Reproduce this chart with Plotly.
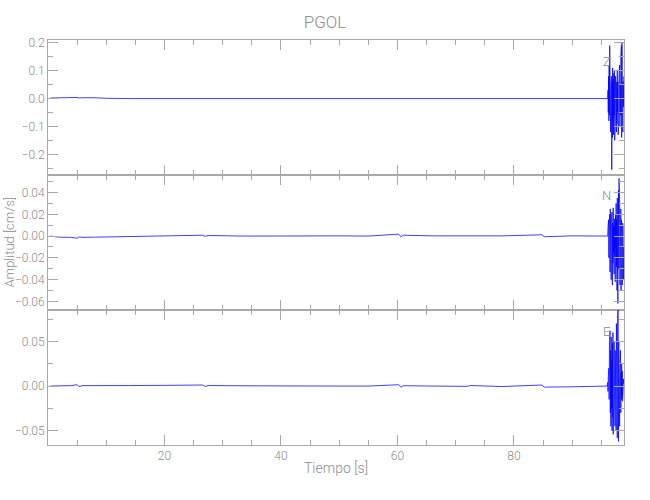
import plotly.graph_objects as go
from plotly.subplots import make_subplots

# ---------------- data ----------------
# pre-event (quiet) portion
t_pre = [0.4, 2.0, 4.0, 5.0, 5.3, 6.0, 8.0, 10.0, 14.0, 20.0, 26.5, 27.0, 27.5, 34.0, 40.0, 45.0,
         50.0, 55.0, 60.2, 60.6, 61.0, 66.0, 72.0, 72.5, 78.0, 84.8, 85.2, 90.0, 94.0, 96.0]
z_pre = [0.002, 0.003, 0.003, 0.004, 0.002, 0.003, 0.003, 0.001, 0.0, 0.0, 0.001, -0.001, 0.0, 0.0,
         0.0, 0.0, 0.0, 0.0, 0.001, -0.001, 0.0, 0.0, 0.0, 0.0, 0.0, 0.001, -0.001, 0.0, 0.0, 0.0]
n_pre = [0.0, -0.001, -0.0012, -0.002, -0.0008, -0.0012, -0.001, -0.0008, -0.0004, 0.0, 0.0008,
         -0.0002, 0.0005, 0.0, 0.0003, 0.0006, 0.0002, 0.0, 0.0018, -0.0006, 0.0008, 0.0002, 0.0,
         0.0006, 0.0002, 0.0012, -0.0006, 0.0002, 0.0, 0.0]
e_pre = [0.0, 0.0, 0.0005, 0.0015, -0.0005, 0.0005, 0.0004, 0.0008, 0.0006, 0.0008, 0.0012,
         -0.0004, 0.0006, 0.0003, 0.0005, 0.0004, 0.0, 0.0, 0.0015, -0.0012, 0.0004, 0.0, -0.0003,
         0.0006, -0.0005, 0.0012, -0.0012, -0.0008, -0.0005, 0.0]

# event burst
t_burst = [96.10, 96.15, 96.20, 96.25, 96.30, 96.35, 96.40, 96.45, 96.50, 96.55, 96.60, 96.65,
           96.70, 96.75, 96.80, 96.85, 96.90, 96.95, 97.00, 97.05, 97.10, 97.15, 97.20, 97.25,
           97.30, 97.35, 97.40, 97.45, 97.50, 97.55, 97.60, 97.65, 97.70, 97.75, 97.80, 97.85,
           97.90, 97.95, 98.00, 98.05, 98.10, 98.15, 98.20, 98.25, 98.30, 98.35, 98.40, 98.45,
           98.50, 98.55, 98.60, 98.65, 98.70, 98.75, 98.80, 98.85]
z_burst = [0.0, 0.03, -0.05, 0.08, -0.08, 0.12, -0.06, 0.19, -0.10, 0.10, -0.12, 0.05,
           -0.18, 0.08, -0.255, 0.06, -0.14, 0.11, -0.08, 0.07, -0.13, 0.09, -0.06, 0.10,
           -0.15, 0.05, -0.10, 0.08, -0.06, 0.04, -0.12, 0.06, -0.09, 0.10, -0.05, 0.06,
           -0.13, 0.04, -0.08, 0.09, -0.04, 0.12, -0.10, 0.05, -0.06, 0.15, -0.02, 0.19,
           -0.14, 0.20, -0.05, 0.10, -0.12, 0.06, -0.03, 0.08]
n_burst = [0.0, 0.008, -0.010, 0.015, -0.020, 0.012, -0.028, 0.020, -0.033, 0.025, -0.018, 0.010,
           -0.040, 0.018, -0.030, 0.022, -0.045, 0.012, -0.025, 0.026, -0.015, 0.008, -0.035, 0.016,
           -0.020, 0.010, -0.042, 0.020, -0.012, 0.030, -0.028, 0.015, -0.050, 0.035, -0.040, -0.062,
           0.020, 0.042, -0.030, 0.053, -0.020, 0.030, -0.045, 0.010, -0.035, 0.025, -0.050, 0.015,
           -0.030, 0.008, -0.045, 0.012, -0.025, 0.010, -0.040, -0.010]
e_burst = [0.004, -0.006, 0.010, -0.012, 0.020, -0.015, 0.045, -0.020, 0.062, -0.030, 0.040, -0.045,
           0.055, -0.025, 0.030, -0.050, 0.048, -0.035, 0.060, -0.054, 0.035, -0.020, 0.050, -0.040,
           0.025, -0.045, 0.040, -0.030, 0.030, -0.050, 0.070, -0.035, 0.045, -0.058, 0.080, -0.040,
           0.088, -0.062, 0.050, -0.030, 0.030, -0.045, 0.020, -0.020, 0.040, -0.030, 0.015, -0.015,
           0.025, -0.010, 0.017, -0.017, 0.010, -0.005, 0.008, 0.002]

x_ticks = [20, 40, 60, 80]
components = ["Z", "N", "E"]
y_ranges = [[-0.274, 0.210], [-0.068, 0.0562], [-0.066, 0.0852]]
y_dticks = [0.1, 0.02, 0.05]
y_minor = [0.05, 0.01, 0.025]
y_formats = [".1f", ".2f", ".2f"]
label_y = [0.133, 0.037, 0.061]

# ---------------- figure ----------------
GRAY = "#8c8c8c"
AX = "#a8a8a8"
FONT = "Roboto, Liberation Sans, sans-serif"
W = 300

fig = make_subplots(rows=3, cols=1, shared_xaxes=True, vertical_spacing=0)

series = [z_pre + z_burst, n_pre + n_burst, e_pre + e_burst]
t_all = t_pre + t_burst
for i, vals in enumerate(series):
    fig.add_trace(go.Scatter(x=t_all, y=vals, mode="lines",
                             line=dict(color="rgba(0,0,255,0.75)", width=1),
                             showlegend=False, hoverinfo="skip"), row=i + 1, col=1)
    fig.update_yaxes(range=y_ranges[i], dtick=y_dticks[i], tick0=0, tickformat=y_formats[i],
                     row=i + 1, col=1)
    fig.update_yaxes(minor=dict(dtick=y_minor[i], ticklen=5, ticks="inside", tickcolor=AX),
                     row=i + 1, col=1)
    ax = "x" if i == 0 else "x%d" % (i + 1)
    ay = "y" if i == 0 else "y%d" % (i + 1)
    fig.add_annotation(x=95.9, y=label_y[i], xref=ax, yref=ay, text=components[i],
                       showarrow=False, font=dict(family=FONT, size=13, color=GRAY, weight=W))

fig.update_yaxes(showgrid=False, zeroline=False, showline=True, linecolor=AX, linewidth=1,
                 mirror="allticks", ticks="inside", ticklen=10, tickcolor=AX, automargin=False,
                 tickfont=dict(family=FONT, size=12, color=GRAY, weight=W))
fig.update_xaxes(range=[0, 98.9], tickmode="array", tickvals=x_ticks, showgrid=False,
                 zeroline=False, automargin=False,
                 showline=True, linecolor=AX, linewidth=1, mirror="allticks",
                 ticks="inside", ticklen=10, tickcolor=AX,
                 minor=dict(dtick=5, tick0=0, ticklen=5, ticks="inside", tickcolor=AX),
                 tickfont=dict(family=FONT, size=12, color=GRAY, weight=W))
fig.update_xaxes(title=dict(text="Tiempo [s]", font=dict(family=FONT, size=14, color=GRAY, weight=W),
                            standoff=0), row=3, col=1)

fig.add_annotation(x=(9 - 48) / 576, y=0.5, xref="paper", yref="paper", text="Amplitud [cm/s]",
                   textangle=-90, showarrow=False, xanchor="center", yanchor="middle",
                   font=dict(family=FONT, size=13, color=GRAY, weight=W))

fig.update_layout(
    width=650, height=500,
    margin=dict(l=48, r=26, t=40, b=55),
    paper_bgcolor="white", plot_bgcolor="white",
    title=dict(text="PGOL", x=0.5, xanchor="center", y=1 - 22 / 500, yanchor="middle",
               font=dict(family=FONT, size=17, color=GRAY, weight=W)),
)

fig.write_html("out.html", config={"displayModeBar": False},
               post_script="document.body.style.margin='0';")
